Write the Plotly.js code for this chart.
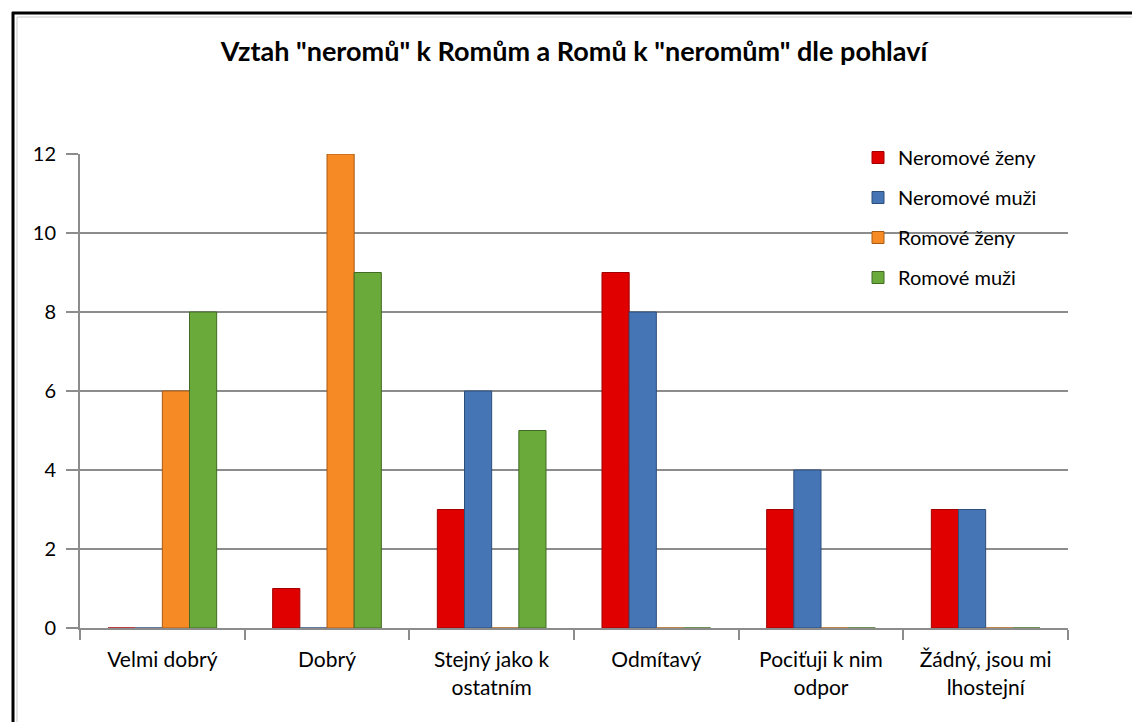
<!DOCTYPE html>
<html>
<head>
<meta charset="utf-8">
<script src="https://cdn.plot.ly/plotly-3.0.1.min.js"></script>
<style>html,body{margin:0;padding:0;background:#fff;}#chart{width:1132px;height:722px;}</style>
</head>
<body>
<div id="chart"></div>
<script>
const categories = ["Velmi dobrý", "Dobrý", "Stejný jako k<br>ostatním", "Odmítavý", "Pociťuji k nim<br>odpor", "Žádný, jsou mi<br>lhostejní"];
const seriesNames = ["Neromové ženy", "Neromové muži", "Romové ženy", "Romové muži"];
const neromoveZeny = [0, 1, 3, 9, 3, 3];
const neromoveMuzi = [0, 0, 6, 8, 4, 3];
const romoveZeny = [6, 12, 0, 0, 0, 0];
const romoveMuzi = [8, 9, 5, 0, 0, 0];
const yTicks = [0, 2, 4, 6, 8, 10, 12];

const colors = ["#E00000", "#4575B5", "#F68A24", "#6AAA3A"];
const edge = ["#A00000", "#2E4E7A", "#A85A15", "#416B23"];
const values = [neromoveZeny, neromoveMuzi, romoveZeny, romoveMuzi];

const font = "Lato, 'Open Sans', sans-serif";
const traces = values.map((v, i) => ({
  type: "bar",
  name: seriesNames[i],
  x: categories,
  y: v,
  legendgroup: "g" + i,
  marker: {color: colors[i], line: {color: edge[i], width: 1}},
  hoverinfo: "x+y+name"
}));

const L = 80, R = 1068, T = 154, B = 628;
const W = R - L, H = B - T;
const px = x => (x - L) / W;
const py = y => (B - y) / H;

const layout = {
  width: 1132, height: 722,
  margin: {l: L, r: 1132 - R, t: T, b: 722 - B},
  paper_bgcolor: "#ffffff",
  plot_bgcolor: "#ffffff",
  barmode: "group",
  bargap: 0.34,
  bargroupgap: 0,
  font: {family: font, size: 20, color: "#000"},
  title: {
    text: "<b>Vztah \"neromů\" k Romům a Romů k \"neromům\" dle pohlaví</b>",
    font: {family: font, size: 27, color: "#000"},
    x: 0.5, xanchor: "center", xref: "paper",
    y: 1 - 52 / 722, yanchor: "middle", yref: "container"
  },
  xaxis: {
    type: "category",
    showline: true, linecolor: "#8c8c8c", linewidth: 2,
    ticks: "outside", tickson: "boundaries", ticklen: 10, tickcolor: "#8c8c8c", tickwidth: 2,
    tickfont: {family: font, size: 21, color: "#000"},
    ticklabelstandoff: 12,
    showgrid: false
  },
  yaxis: {
    range: [0, 12],
    tickvals: yTicks,
    ticktext: yTicks.map(String),
    showline: true, linecolor: "#8c8c8c", linewidth: 2,
    ticks: "outside", ticklen: 12, tickcolor: "#8c8c8c", tickwidth: 2,
    showgrid: true, gridcolor: "#8c8c8c", gridwidth: 2,
    zeroline: false,
    tickfont: {family: font, size: 20, color: "#000"},
    ticklabelstandoff: 6
  },
  legend: {
    x: px(858), y: py(138), xanchor: "left", yanchor: "top",
    bgcolor: "rgba(255,255,255,0)",
    traceorder: "grouped",
    tracegroupgap: 11,
    font: {family: font, size: 20, color: "#000"},
    itemwidth: 30
  },
  shapes: [
    {type: "line", xref: "paper", yref: "paper",
     x0: px(12), x1: px(1140), y0: py(13), y1: py(13),
     line: {color: "#000", width: 3}, layer: "above"},
    {type: "line", xref: "paper", yref: "paper",
     x0: px(13), x1: px(13), y0: py(12), y1: py(760),
     line: {color: "#000", width: 3}, layer: "above"},
    {type: "line", xref: "paper", yref: "paper",
     x0: px(17), x1: px(1140), y0: py(17), y1: py(17),
     line: {color: "#c8c8c8", width: 1}, layer: "above"},
    {type: "line", xref: "paper", yref: "paper",
     x0: px(17), x1: px(17), y0: py(17), y1: py(760),
     line: {color: "#c8c8c8", width: 1}, layer: "above"}
  ]
};

Plotly.newPlot("chart", traces, layout, {displayModeBar: false, staticPlot: true});
</script>
</body>
</html>
